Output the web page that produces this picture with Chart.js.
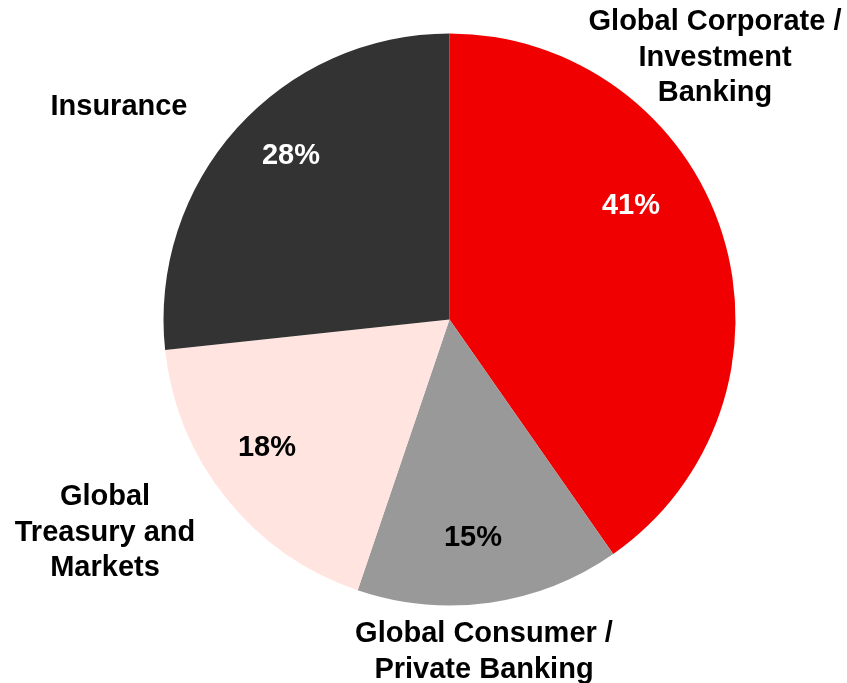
<!DOCTYPE html>
<html>
<head>
<meta charset="utf-8">
<script src="https://cdn.jsdelivr.net/npm/chart.js@4.4.1/dist/chart.umd.min.js"></script>
<style>
  html, body { margin: 0; padding: 0; background: #ffffff; }
  #wrap { width: 847px; height: 683px; position: relative; }
</style>
</head>
<body>
<div id="wrap"><canvas id="c" width="847" height="683"></canvas></div>
<script>
// Data
const categories = [
  ["Global Corporate /", "Investment", "Banking"],
  ["Global Consumer /", "Private Banking"],
  ["Global", "Treasury and", "Markets"],
  ["Insurance"]
];
const shareValues = [40.3, 14.9, 18.1, 26.7];
const shareLabels = ["41%", "15%", "18%", "28%"];
const sliceColors = ["#F00000", "#999999", "#FFE4DF", "#333333"];
const valueTextColors = ["#FFFFFF", "#000000", "#000000", "#FFFFFF"];

// Label placement (pixels on the canvas)
const valuePos = [[631, 206], [473, 538], [267, 448], [291, 156]];
const namePos = [[715, 22], [484, 634], [105, 497], [119, 107]];
const lineH = 35.5;

const labelPlugin = {
  id: 'sliceLabels',
  afterDatasetsDraw(chart) {
    const ctx = chart.ctx;
    ctx.save();
    ctx.font = 'bold 29px "Liberation Sans", Arial, sans-serif';
    ctx.textAlign = 'center';
    ctx.textBaseline = 'middle';
    shareLabels.forEach((t, i) => {
      ctx.fillStyle = valueTextColors[i];
      ctx.fillText(t, valuePos[i][0], valuePos[i][1]);
    });
    ctx.fillStyle = '#000000';
    categories.forEach((lines, i) => {
      lines.forEach((ln, j) => {
        ctx.fillText(ln, namePos[i][0], namePos[i][1] + j * lineH);
      });
    });
    ctx.restore();
  }
};

new Chart(document.getElementById('c'), {
  type: 'pie',
  data: {
    labels: categories.map(l => l.join(' ')),
    datasets: [{
      data: shareValues,
      backgroundColor: sliceColors,
      borderWidth: 0
    }]
  },
  options: {
    responsive: false,
    animation: false,
    layout: { padding: { top: 33, bottom: 77, left: 163.5, right: 111.5 } },
    plugins: {
      legend: { display: false },
      tooltip: { enabled: false }
    }
  },
  plugins: [labelPlugin]
});
</script>
</body>
</html>
